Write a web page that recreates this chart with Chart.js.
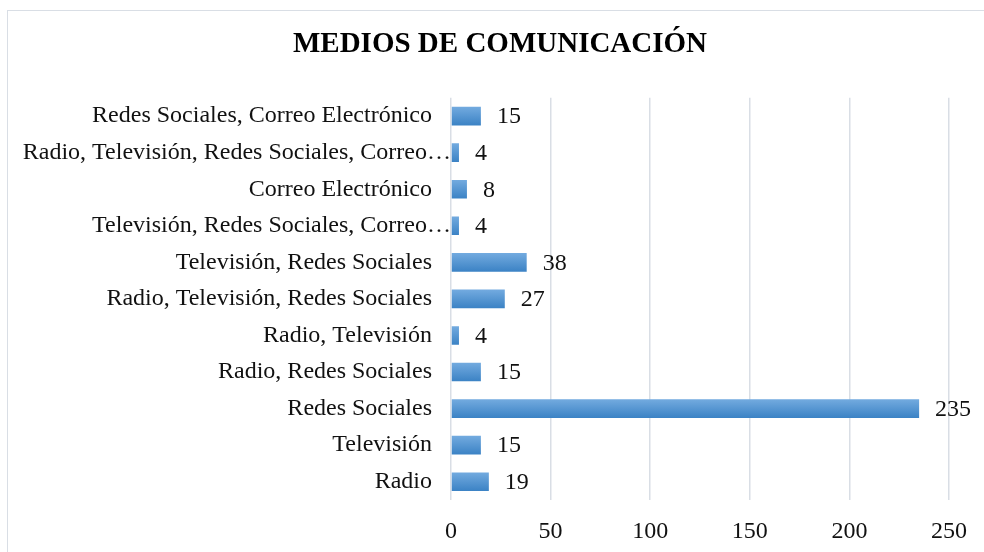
<!DOCTYPE html>
<html>
<head>
<meta charset="utf-8">
<script src="https://cdn.jsdelivr.net/npm/chart.js@4/dist/chart.umd.min.js"></script>
<style>
  html, body { margin: 0; padding: 0; background: #fff; overflow: hidden; }
  #frame { position: absolute; left: 7px; top: 10px; width: 1000px; height: 600px; border: 1px solid #d9dee5; }
  #wrap { position: absolute; left: 0; top: 0; width: 1000px; height: 552px; }
</style>
</head>
<body>
<div id="frame"></div>
<div id="wrap"><canvas id="medios"></canvas></div>
<script>
// categorias de arriba hacia abajo
var categorias = [
    'Redes Sociales, Correo Electrónico',
    'Radio, Televisión, Redes Sociales, Correo…',
    'Correo Electrónico',
    'Televisión, Redes Sociales, Correo…',
    'Televisión, Redes Sociales',
    'Radio, Televisión, Redes Sociales',
    'Radio, Televisión',
    'Radio, Redes Sociales',
    'Redes Sociales',
    'Televisión',
    'Radio'
];
var valores = [15, 4, 8, 4, 38, 27, 4, 15, 235, 15, 19];
var ticksX = [0, 50, 100, 150, 200, 250];

var fuente = "'Liberation Serif', 'Times New Roman', serif";

// etiquetas del eje y (las recortadas llegan hasta el eje) y valores al final de cada barra
var etiquetas = {
    id: 'etiquetas',
    afterDatasetsDraw: function(chart) {
        var ctx = chart.ctx;
        var yScale = chart.scales.y;
        var left = chart.chartArea.left;
        var meta = chart.getDatasetMeta(0);
        ctx.save();
        ctx.font = '24px ' + fuente;
        ctx.fillStyle = '#111';
        ctx.textBaseline = 'middle';
        ctx.textAlign = 'right';
        categorias.forEach(function(c, i) {
            var recortada = c.charAt(c.length - 1) === '…';
            ctx.fillText(c, left - (recortada ? 0 : 19), yScale.getPixelForTick(i));
        });
        ctx.textAlign = 'left';
        meta.data.forEach(function(bar, i) {
            ctx.fillText(String(valores[i]), bar.x + 16, bar.y + 1);
        });
        ctx.restore();
    }
};

function degradado(context) {
    var chart = context.chart;
    if (!chart.chartArea || context.dataIndex === undefined) return '#5b9bd5';
    var y = chart.scales.y.getPixelForValue(context.dataIndex);
    var g = chart.ctx.createLinearGradient(0, y - 9, 0, y + 9);
    g.addColorStop(0, '#72aadf');
    g.addColorStop(1, '#3c83c5');
    return g;
}

new Chart(document.getElementById('medios'), {
    type: 'bar',
    data: {
        labels: categorias,
        datasets: [{
            data: valores,
            backgroundColor: degradado,
            borderWidth: 0,
            barPercentage: 0.51,
            categoryPercentage: 1
        }]
    },
    options: {
        indexAxis: 'y',
        responsive: true,
        maintainAspectRatio: false,
        animation: false,
        layout: { padding: { left: 51, right: 51, top: 0, bottom: 0 } },
        plugins: {
            legend: { display: false },
            tooltip: { enabled: false },
            title: {
                display: true,
                text: 'MEDIOS DE COMUNICACIÓN',
                color: '#000',
                font: { family: fuente, size: 29, weight: 'bold', lineHeight: 1.2 },
                padding: { top: 27, bottom: 36 }
            }
        },
        scales: {
            x: {
                min: 0,
                max: 250,
                afterBuildTicks: function(scale) {
                    scale.ticks = ticksX.map(function(v) { return { value: v }; });
                },
                afterFit: function(scale) { scale.height = 52; },
                grid: { color: '#d9dee5', lineWidth: 1.5, drawTicks: false },
                border: { display: false },
                ticks: {
                    padding: 17,
                    color: '#111',
                    font: { family: fuente, size: 24 }
                }
            },
            y: {
                afterFit: function(scale) { scale.width = 400; },
                grid: { display: false, drawTicks: false },
                border: { display: false },
                ticks: { display: false }
            }
        }
    },
    plugins: [etiquetas]
});
</script>
</body>
</html>
